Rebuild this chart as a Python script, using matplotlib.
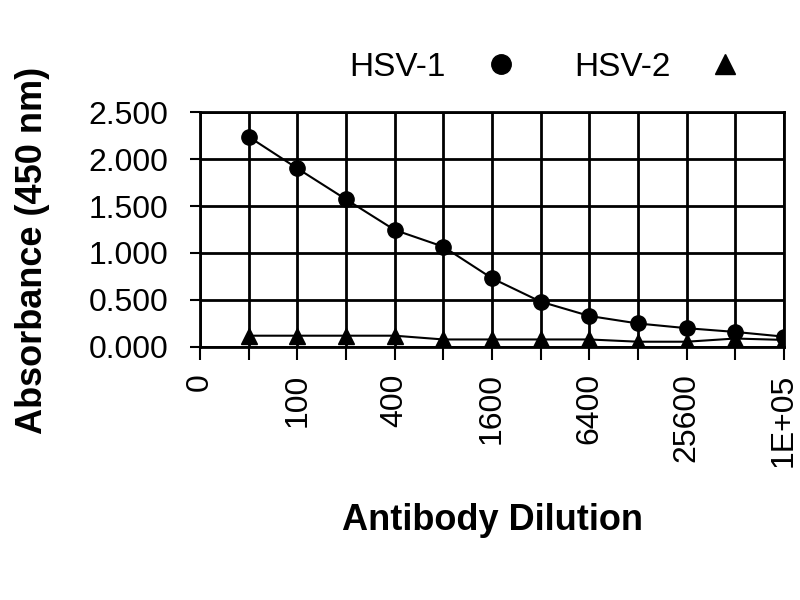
import matplotlib
matplotlib.use('Agg')
import matplotlib.pyplot as plt
from matplotlib.lines import Line2D
from matplotlib.ticker import FormatStrFormatter

plt.rcParams['font.family'] = ['Liberation Sans', 'DejaVu Sans']

# Розведення антитіл (категорії осі X)
dilutions = [0, 50, 100, 200, 400, 800, 1600, 3200, 6400, 12800, 25600, 51200, 102400]
tick_labels = ['0', '', '100', '', '400', '', '1600', '', '6400', '', '25600', '', '1E+05']

# Поглинання (450 нм), точки на категоріях 1..12
hsv1 = [2.237, 1.900, 1.571, 1.245, 1.067, 0.731, 0.482, 0.330, 0.250, 0.200, 0.160, 0.110]
hsv2 = [0.120, 0.120, 0.120, 0.120, 0.080, 0.080, 0.080, 0.080, 0.056, 0.056, 0.090, 0.075]

x_all = list(range(len(dilutions)))
x_data = x_all[1:]

fig = plt.figure(figsize=(8, 6), dpi=100)
ax = fig.add_axes([0.25, 0.4217, 0.73, 0.3916])

ax.plot(x_data, hsv1, color='black', linewidth=1.5, marker='o', markersize=11)
ax.plot(x_data, hsv2, color='black', linewidth=1.5, marker='^', markersize=11)

ax.set_xlim(0, len(dilutions) - 1)
ax.set_ylim(0, 2.5)
ax.set_xticks(x_all)
ax.set_xticklabels(tick_labels, rotation=90, fontsize=23)
ax.set_yticks([0, 0.5, 1.0, 1.5, 2.0, 2.5])
ax.yaxis.set_major_formatter(FormatStrFormatter('%.3f'))
ax.tick_params(axis='y', labelsize=23, length=7, width=1.5, pad=16, direction='out')
ax.tick_params(axis='x', length=9, width=1.5, pad=10, direction='out')

ax.grid(True, color='black', linewidth=2)
ax.set_axisbelow(True)
for sp in ax.spines.values():
    sp.set_linewidth(2)

ax.set_xlabel('Antibody Dilution', fontsize=26, fontweight='bold')
ax.xaxis.set_label_coords(0.5, -0.664)
ax.xaxis.label.set_va('top')
ax.set_ylabel('Absorbance (450 nm)', fontsize=26, fontweight='bold')
ax.yaxis.set_label_coords(-0.257, 0.41)

# Легенда: текст, потім маркер
handles = [Line2D([], [], color='black', linestyle='none', marker='o', markersize=14),
           Line2D([], [], color='black', linestyle='none', marker='^', markersize=14)]
ax.legend(handles, ['HSV-1', 'HSV-2'], ncol=2, markerfirst=False, frameon=False,
          fontsize=24, loc='center', bbox_to_anchor=(0.592, 1.191),
          handlelength=1.0, handletextpad=1.15, columnspacing=1.7)

fig.savefig('out.png', dpi=100)
